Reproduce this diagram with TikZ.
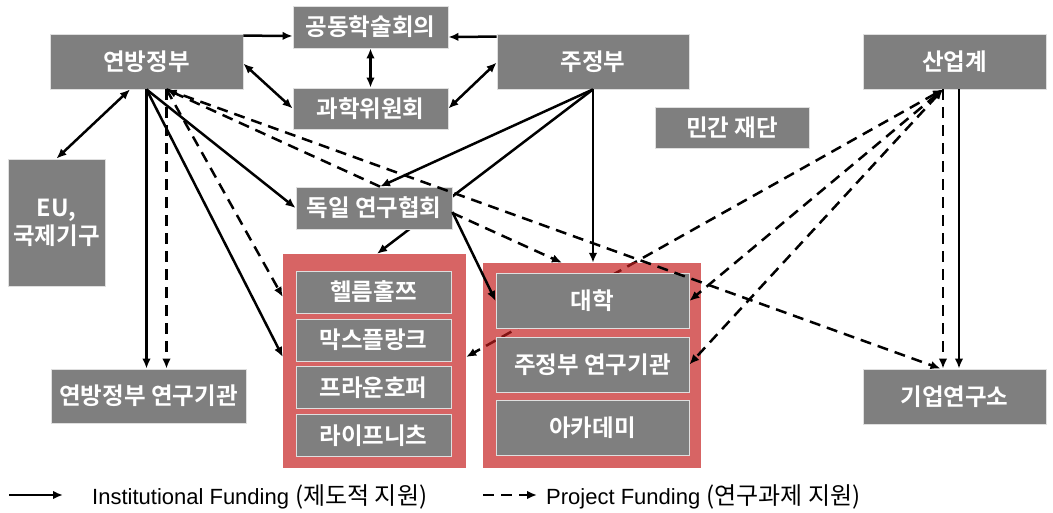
\documentclass[tikz,border=0pt]{standalone}
\usepackage{fontspec}
\setmainfont{Liberation Sans}
\newfontfamily\kr{Noto Sans CJK KR}[BoldFont={Noto Sans CJK KR Bold}]
\usetikzlibrary{arrows.meta}
\usetikzlibrary{calc}
\definecolor{boxgray}{RGB}{127,127,127}
\definecolor{grpred}{RGB}{215,100,100}
\definecolor{maroon}{RGB}{130,20,20}
\pgfdeclarelayer{under}
\pgfdeclarelayer{grp}
\pgfsetlayers{under,grp,main}

\begin{document}
\begin{tikzpicture}[x=1pt, y=-1pt, >={Latex[length=10pt,width=8.5pt]},
	box/.style={fill=boxgray, draw=white!75!gray, line width=0.8pt, text=white, inner sep=0pt, font=\kr\bfseries\fontsize{23.5}{28}\selectfont},
	grp/.style={fill=grpred, inner sep=0pt},
	inst/.style={->, line width=2.5pt},
	proj/.style={inst, dash pattern=on 11pt off 7pt}]
	\useasboundingbox (0,0) rectangle (1053,513);
	\begin{pgfonlayer}{grp}
		\node[grp, minimum width=183pt, minimum height=214pt] (grpA) at (374.5,361) {};
		\node[grp, minimum width=218pt, minimum height=205pt] (grpB) at (592,365.5) {};
	\end{pgfonlayer}
	\node[box, minimum width=193pt, minimum height=55pt] (fed) at (146.5,61.5) {연방정부};
	\node[box, minimum width=155pt, minimum height=42pt] (joint) at (370.5,27) {공동학술회의};
	\node[box, minimum width=155pt, minimum height=41pt] (sci) at (370.5,108.5) {과학위원회};
	\node[box, minimum width=192pt, minimum height=55pt] (state) at (593,61.5) {주정부};
	\node[box, minimum width=183pt, minimum height=55pt] (ind) at (954.5,61.5) {산업계};
	\node[box, minimum width=154pt, minimum height=41pt] (found) at (732,127.5) {민간 재단};
	\node[box, minimum width=97pt, minimum height=127pt, align=center] (eu) at (56.5,222.5) {EU,\\국제기구};
	\node[box, minimum width=156pt, minimum height=42pt] (dfg) at (374,208) {독일 연구협회};
	\node[box, minimum width=195pt, minimum height=54pt] (fedinst) at (148.5,396) {연방정부 연구기관};
	\node[box, minimum width=183pt, minimum height=55pt] (firm) at (954.5,396.5) {기업연구소};
	\foreach \nm/\y/\txt in {helm/292/헬름홀쯔, mpg/340/막스플랑크, fhg/387.5/프라운호퍼, leib/435.5/라이프니츠}
		\node[box, minimum width=155pt, minimum height=42pt] (\nm) at (373.5,\y) {\txt};
	\foreach \nm/\y/\txt in {uni/301/대학, stinst/364.5/주정부 연구기관, acad/427.5/아카데미}
		\node[box, minimum width=193pt, minimum height=55pt] (\nm) at (592.5,\y) {\txt};

	\begin{pgfonlayer}{under}
		\draw[inst] (state.south) -- ([xshift=2.5pt]grpA.north);
		\draw[proj, <->] ([xshift=-11.5pt]ind.south) -- ([yshift=4pt]grpA.east);
	\end{pgfonlayer}
	\begin{pgfonlayer}{grp}
		\begin{scope}
			\clip (grpB.north west) rectangle (grpB.south east);
			\draw[proj, <->, maroon] ([xshift=-11.5pt]ind.south) -- ([yshift=4pt]grpA.east);
		\end{scope}
	\end{pgfonlayer}

	\draw[inst] ([yshift=-2pt]fed.north east) -- ([yshift=-9pt]joint.west);
	\draw[inst] ([yshift=-3pt]state.north west) -- ([yshift=-10pt]joint.east);
	\draw[inst, <->] ([yshift=-30pt]fed.north east) -- (sci.west);
	\draw[inst, <->] ([yshift=-29pt]state.north west) -- (sci.east);
	\draw[inst, <->] (joint) -- (sci);
	\draw[inst, <->] ([xshift=-16.5pt]fed.south) -- (eu.north);
	\draw[inst] (fed.south) -- (fed.south |- fedinst.north);
	\draw[inst] (fed.south) -- (dfg.west);
	\draw[inst] (fed.south) -- ([yshift=4pt]grpA.west);
	\draw[inst] (state.south) -- ([xshift=6pt]dfg.north);
	\draw[inst] (state.south) -- (state.south |- grpB.north);
	\draw[inst] ([yshift=-4pt]dfg.east) -- (uni.west);
	\draw[inst] ([xshift=4.5pt]ind.south) -- ([xshift=4.5pt]firm.north);

	\draw[proj] ([xshift=20pt]fed.south) -- ([xshift=20pt]fed.south |- fedinst.north);
	\draw[proj] ([xshift=20pt]fed.south) -- ([yshift=64pt]grpA.west);
	\draw[proj] ([xshift=6pt]dfg.north) -- ([xshift=20pt]fed.south);
	\draw[proj] ([xshift=20pt]fed.south) -- ([xshift=-14pt]firm.north);
	\draw[proj] ([yshift=-5pt]dfg.east) -- ([xshift=-30pt]grpB.north);
	\draw[proj] ([xshift=-11.5pt]ind.south) -- ([xshift=-11.5pt]firm.north);
	\draw[proj, <->] ([xshift=-11.5pt]ind.south) -- (uni.east);
	\draw[proj, <->] ([xshift=-11.5pt]ind.south) -- (stinst.east);

	\coordinate (lgA) at (9,495);
	\coordinate (lgB) at (63,495);
	\draw[inst] (lgA) -- (lgB);
	\node[anchor=base west, inner sep=0pt, font=\fontsize{22}{26}\selectfont] (lgInst) at (92,504) {Institutional Funding {\kr\fontsize{24}{28}\selectfont (제도적 지원)}};
	\coordinate (lgC) at (483,495);
	\coordinate (lgD) at (537,495);
	\draw[proj] (lgC) -- (lgD);
	\node[anchor=base west, inner sep=0pt, font=\fontsize{22}{26}\selectfont] (lgProj) at (546,504) {Project Funding {\kr\fontsize{24}{28}\selectfont (연구과제 지원)}};
\end{tikzpicture}
\end{document}
